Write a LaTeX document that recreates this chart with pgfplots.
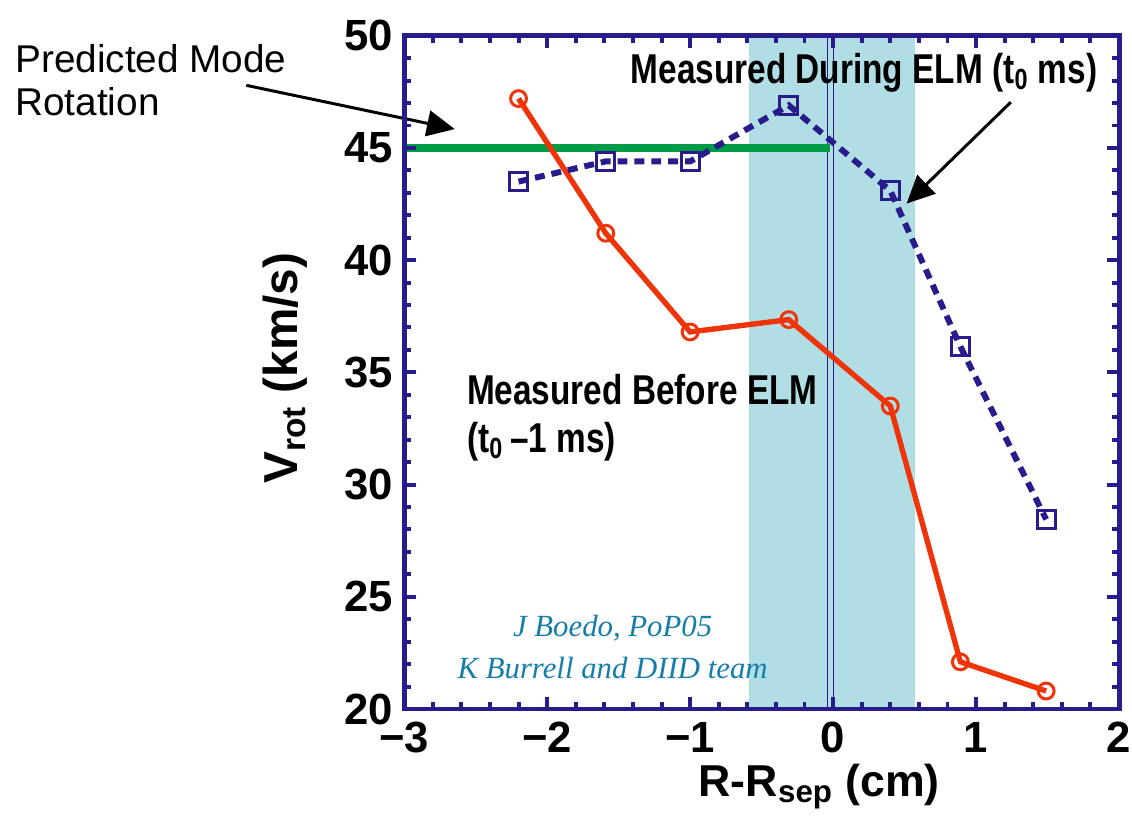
\documentclass[border=0pt]{standalone}
\usepackage{fontspec}
\setmainfont{Liberation Sans}
\newfontfamily\narrowsans[FakeStretch=0.8]{Liberation Sans}
\newfontfamily\timesfont{Liberation Serif}
\usepackage{pgfplots}
\pgfplotsset{compat=1.18}
\usetikzlibrary{arrows.meta}

\definecolor{navy}{RGB}{40,28,140}
\definecolor{elmred}{RGB}{240,52,10}
\definecolor{modegreen}{RGB}{0,155,70}
\definecolor{band}{RGB}{176,222,228}
\definecolor{credit}{RGB}{20,125,170}

\begin{document}
\begin{tikzpicture}
\useasboundingbox (-203.5pt,-62.5pt) rectangle (366.5pt,357pt);
\begin{axis}[
  at={(0,0)}, anchor=south west,
  width=360pt, height=339pt, scale only axis,
  xmin=-3, xmax=2, ymin=20, ymax=50,
  xtick={-3,-2,-1,0,1,2}, xticklabels={−3,−2,−1,0,1,2},
  ytick={20,25,30,35,40,45,50}, yticklabels={20,25,30,35,40,45,50},
  minor x tick num=4, minor y tick num=4,
  tick align=inside, major tick length=6pt, minor tick length=3.5pt,
  axis line style={navy, line width=2.5pt},
  major tick style={navy, line width=2pt},
  minor tick style={navy, line width=2pt},
  tick label style={font=\fontsize{22}{24}\selectfont\bfseries, text=black},
  xticklabel style={yshift=-3pt},
  yticklabel style={xshift=-2pt},
  axis on top,
  clip=false,
]
% shaded ELM region and separatrix
\addplot[fill=band, draw=none] coordinates {(-0.59,20) (-0.59,50) (0.57,50) (0.57,20)};
\addplot[navy, line width=0.6pt] coordinates {(-0.04,20) (-0.04,50)};
\addplot[navy, line width=0.6pt] coordinates {(0,20) (0,50)};
% predicted mode rotation
\addplot[modegreen, line width=4pt] coordinates {(-3,45) (-0.02,45)};
% before ELM (t0 - 1 ms)
\addplot[elmred, line width=2.7pt, mark=o, mark size=4pt,
  mark options={line width=1.5pt}] coordinates {
  (-2.20,47.2) (-1.59,41.2) (-1.00,36.8) (-0.31,37.35)
  (0.40,33.5) (0.89,22.1) (1.49,20.8)};
% during ELM (t0)
\addplot[navy, line width=3pt, dash pattern=on 5pt off 3.5pt,
  mark=square, mark size=4.5pt,
  mark options={solid, fill=white, line width=1.5pt}] coordinates {
  (-2.20,43.5) (-1.59,44.4) (-1.00,44.4) (-0.31,46.9)
  (0.40,43.1) (0.89,36.15) (1.49,28.45)};

\node[inner sep=0pt, anchor=base west, font=\fontsize{21}{24}\selectfont\narrowsans\bfseries]
  at (axis cs:-1.417,47.88) {Measured During ELM (t\textsubscript{0} ms)};
\node[inner sep=0pt, anchor=base west, font=\fontsize{21}{24}\selectfont\narrowsans\bfseries]
  at (axis cs:-2.5625,33.58) {Measured Before ELM};
\node[inner sep=0pt, anchor=base west, font=\fontsize{21}{24}\selectfont\narrowsans\bfseries]
  at (axis cs:-2.5625,31.42) {(t\textsubscript{0}\,–1 ms)};

\node[inner sep=0pt, anchor=base west, font=\fontsize{19.5}{22}\selectfont]
  at (axis cs:-5.722,48.36) {Predicted Mode};
\node[inner sep=0pt, anchor=base west, font=\fontsize{19.5}{22}\selectfont]
  at (axis cs:-5.722,46.46) {Rotation};

\draw[-{Triangle[length=14pt,width=13pt]}, line width=1.5pt]
  (axis cs:-4.104,47.79) -- (axis cs:-2.646,45.84);
\draw[-{Triangle[length=14pt,width=13pt]}, line width=1.5pt]
  (axis cs:1.243,47.04) -- (axis cs:0.514,42.52);

\node[inner sep=0pt, anchor=base, text=credit, font=\fontsize{15.5}{18}\selectfont\timesfont\itshape]
  at (axis cs:-1.542,23.23) {J Boedo, PoP05};
\node[inner sep=0pt, anchor=base, text=credit, font=\fontsize{15.5}{18}\selectfont\timesfont\itshape]
  at (axis cs:-1.542,21.37) {K Burrell and DIID team};

\node[inner sep=0pt, anchor=base, font=\fontsize{22.5}{25}\selectfont\bfseries]
  at (axis cs:-0.097,16.11) {R-R\textsubscript{sep} (cm)};
\node[inner sep=0pt, anchor=base, rotate=90, font=\fontsize{24}{26}\selectfont\bfseries]
  at (axis cs:-3.743,35.18) {V\textsubscript{rot} (km/s)};
\end{axis}
\end{tikzpicture}
\end{document}
